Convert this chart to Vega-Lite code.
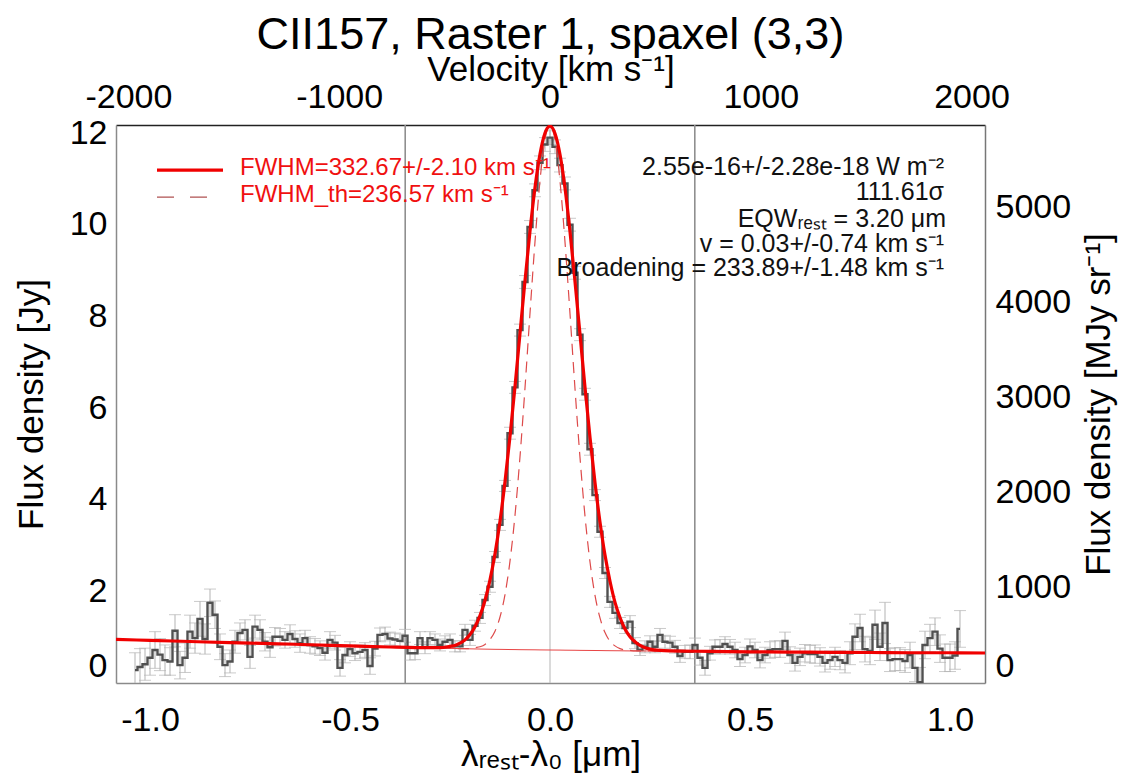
{
  "$schema": "https://vega.github.io/schema/vega-lite/v6.json",
  "width": 869,
  "height": 558,
  "autosize": "none",
  "padding": {"left": 116, "top": 125, "right": 141, "bottom": 96},
  "background": "white",
  "title": {"text": "CII157, Raster 1, spaxel (3,3)", "fontSize": 45, "font": "Liberation Sans", "fontWeight": "normal", "color": "#000", "anchor": "middle", "offset": -6},
  "config": {
    "font": "Liberation Sans",
    "view": {"stroke": null},
    "axis": {"grid": false, "labelFont": "Liberation Sans", "titleFont": "Liberation Sans", "labelColor": "#000", "titleColor": "#000", "titleFontWeight": "normal", "labelFontSize": 34, "titleFontSize": 35, "domainColor": "#8a8a8a", "domainWidth": 1.5, "tickColor": "#333", "tickWidth": 1.2, "tickSize": 0, "labelOverlap": false, "labelBound": false}
  },
  "datasets": {
    "spectrum": [
      {"w":-1.0375,"f":0.28,"e":0.38},{"w":-1.025,"f":0.35,"e":0.40},{"w":-1.0125,"f":0.41,"e":0.35},{"w":-1.0,"f":0.55,"e":0.38},
      {"w":-0.9875,"f":0.72,"e":0.40},{"w":-0.975,"f":0.62,"e":0.35},{"w":-0.9625,"f":0.50,"e":0.33},{"w":-0.95,"f":0.47,"e":0.30},
      {"w":-0.9375,"f":1.14,"e":0.35},{"w":-0.925,"f":0.39,"e":0.30},{"w":-0.9125,"f":0.55,"e":0.32},{"w":-0.9,"f":1.12,"e":0.36},
      {"w":-0.8875,"f":0.98,"e":0.33},{"w":-0.875,"f":1.40,"e":0.38},{"w":-0.8625,"f":0.96,"e":0.33},{"w":-0.85,"f":1.75,"e":0.30},
      {"w":-0.8375,"f":1.49,"e":0.30},{"w":-0.825,"f":0.79,"e":0.28},{"w":-0.8125,"f":0.39,"e":0.25},{"w":-0.8,"f":0.47,"e":0.25},
      {"w":-0.7875,"f":0.90,"e":0.25},{"w":-0.775,"f":1.09,"e":0.22},{"w":-0.7625,"f":1.16,"e":0.22},{"w":-0.75,"f":0.57,"e":0.25},
      {"w":-0.7375,"f":1.23,"e":0.25},{"w":-0.725,"f":1.16,"e":0.22},{"w":-0.7125,"f":0.90,"e":0.20},{"w":-0.7,"f":0.78,"e":0.22},
      {"w":-0.6875,"f":1.01,"e":0.20},{"w":-0.675,"f":1.01,"e":0.18},{"w":-0.6625,"f":0.94,"e":0.18},{"w":-0.65,"f":1.07,"e":0.20},
      {"w":-0.6375,"f":0.96,"e":0.18},{"w":-0.625,"f":0.87,"e":0.20},{"w":-0.6125,"f":0.98,"e":0.17},{"w":-0.6,"f":0.83,"e":0.18},
      {"w":-0.5875,"f":0.80,"e":0.17},{"w":-0.575,"f":0.76,"e":0.16},{"w":-0.5625,"f":0.66,"e":0.16},{"w":-0.55,"f":0.94,"e":0.18},
      {"w":-0.5375,"f":0.88,"e":0.16},{"w":-0.525,"f":0.33,"e":0.18},{"w":-0.5125,"f":0.61,"e":0.17},{"w":-0.5,"f":0.74,"e":0.16},
      {"w":-0.4875,"f":0.65,"e":0.16},{"w":-0.475,"f":0.68,"e":0.15},{"w":-0.4625,"f":0.72,"e":0.16},{"w":-0.45,"f":0.37,"e":0.18},
      {"w":-0.4375,"f":0.75,"e":0.16},{"w":-0.425,"f":1.05,"e":0.15},{"w":-0.4125,"f":1.07,"e":0.15},{"w":-0.4,"f":0.97,"e":0.14},
      {"w":-0.3875,"f":0.95,"e":0.14},{"w":-0.375,"f":0.92,"e":0.15},{"w":-0.3625,"f":1.03,"e":0.14},{"w":-0.35,"f":0.65,"e":0.15},
      {"w":-0.3375,"f":0.65,"e":0.14},{"w":-0.325,"f":0.98,"e":0.14},{"w":-0.3125,"f":0.77,"e":0.13},{"w":-0.3,"f":0.98,"e":0.14},
      {"w":-0.2875,"f":0.94,"e":0.13},{"w":-0.275,"f":0.83,"e":0.13},{"w":-0.2625,"f":0.90,"e":0.13},{"w":-0.25,"f":0.94,"e":0.13},
      {"w":-0.2375,"f":0.80,"e":0.12},{"w":-0.225,"f":0.80,"e":0.12},{"w":-0.2125,"f":1.16,"e":0.12},{"w":-0.2,"f":0.94,"e":0.12},
      {"w":-0.1875,"f":1.25,"e":0.12},{"w":-0.175,"f":1.42,"e":0.12},{"w":-0.1625,"f":1.81,"e":0.12},{"w":-0.15,"f":2.10,"e":0.12},
      {"w":-0.1375,"f":2.75,"e":0.12},{"w":-0.125,"f":3.45,"e":0.12},{"w":-0.1125,"f":4.30,"e":0.12},{"w":-0.1,"f":5.45,"e":0.13},
      {"w":-0.0875,"f":6.45,"e":0.13},{"w":-0.075,"f":7.70,"e":0.13},{"w":-0.0625,"f":8.75,"e":0.14},{"w":-0.05,"f":9.95,"e":0.14},
      {"w":-0.0375,"f":10.75,"e":0.14},{"w":-0.025,"f":11.35,"e":0.15},{"w":-0.0125,"f":11.75,"e":0.15},{"w":0.0,"f":11.90,"e":0.15},
      {"w":0.0125,"f":11.70,"e":0.15},{"w":0.025,"f":11.30,"e":0.15},{"w":0.0375,"f":10.90,"e":0.14},{"w":0.05,"f":10.00,"e":0.14},
      {"w":0.0625,"f":8.95,"e":0.14},{"w":0.075,"f":7.60,"e":0.13},{"w":0.0875,"f":6.30,"e":0.13},{"w":0.1,"f":5.10,"e":0.13},
      {"w":0.1125,"f":4.10,"e":0.12},{"w":0.125,"f":3.30,"e":0.12},{"w":0.1375,"f":2.40,"e":0.12},{"w":0.15,"f":1.77,"e":0.12},
      {"w":0.1625,"f":1.53,"e":0.12},{"w":0.175,"f":1.31,"e":0.12},{"w":0.1875,"f":1.20,"e":0.12},{"w":0.2,"f":1.34,"e":0.13},
      {"w":0.2125,"f":0.87,"e":0.12},{"w":0.225,"f":0.72,"e":0.12},{"w":0.2375,"f":0.79,"e":0.13},{"w":0.25,"f":0.90,"e":0.13},
      {"w":0.2625,"f":0.79,"e":0.13},{"w":0.275,"f":1.05,"e":0.14},{"w":0.2875,"f":0.90,"e":0.14},{"w":0.3,"f":0.88,"e":0.14},
      {"w":0.3125,"f":0.79,"e":0.14},{"w":0.325,"f":0.59,"e":0.14},{"w":0.3375,"f":0.68,"e":0.14},{"w":0.35,"f":0.68,"e":0.15},
      {"w":0.3625,"f":0.83,"e":0.15},{"w":0.375,"f":0.55,"e":0.16},{"w":0.3875,"f":0.33,"e":0.16},{"w":0.4,"f":0.65,"e":0.15},
      {"w":0.4125,"f":0.79,"e":0.15},{"w":0.425,"f":0.79,"e":0.16},{"w":0.4375,"f":0.85,"e":0.16},{"w":0.45,"f":0.79,"e":0.16},
      {"w":0.4625,"f":0.72,"e":0.17},{"w":0.475,"f":0.52,"e":0.16},{"w":0.4875,"f":0.61,"e":0.17},{"w":0.5,"f":0.80,"e":0.16},
      {"w":0.5125,"f":0.72,"e":0.17},{"w":0.525,"f":0.50,"e":0.17},{"w":0.5375,"f":0.61,"e":0.17},{"w":0.55,"f":0.72,"e":0.18},
      {"w":0.5625,"f":0.74,"e":0.18},{"w":0.575,"f":0.74,"e":0.18},{"w":0.5875,"f":0.92,"e":0.19},{"w":0.6,"f":0.61,"e":0.18},
      {"w":0.6125,"f":0.44,"e":0.18},{"w":0.625,"f":0.57,"e":0.19},{"w":0.6375,"f":0.65,"e":0.19},{"w":0.65,"f":0.63,"e":0.19},
      {"w":0.6625,"f":0.63,"e":0.20},{"w":0.675,"f":0.57,"e":0.20},{"w":0.6875,"f":0.44,"e":0.20},{"w":0.7,"f":0.50,"e":0.20},
      {"w":0.7125,"f":0.57,"e":0.21},{"w":0.725,"f":0.50,"e":0.21},{"w":0.7375,"f":0.44,"e":0.22},{"w":0.75,"f":0.65,"e":0.25},
      {"w":0.7625,"f":1.01,"e":0.28},{"w":0.775,"f":1.20,"e":0.30},{"w":0.7875,"f":0.74,"e":0.28},{"w":0.8,"f":0.70,"e":0.30},
      {"w":0.8125,"f":1.27,"e":0.32},{"w":0.825,"f":0.79,"e":0.30},{"w":0.8375,"f":1.31,"e":0.45},{"w":0.85,"f":0.50,"e":0.25},
      {"w":0.8625,"f":0.52,"e":0.25},{"w":0.875,"f":0.52,"e":0.25},{"w":0.8875,"f":0.48,"e":0.25},{"w":0.9,"f":0.61,"e":0.28},
      {"w":0.9125,"f":0.33,"e":0.30},{"w":0.925,"f":0.02,"e":0.32},{"w":0.9375,"f":0.83,"e":0.30},{"w":0.95,"f":0.98,"e":0.30},
      {"w":0.9625,"f":1.12,"e":0.30},{"w":0.975,"f":0.75,"e":0.30},{"w":0.9875,"f":0.55,"e":0.30},{"w":1.0,"f":0.55,"e":0.30},
      {"w":1.0125,"f":0.60,"e":0.30},{"w":1.025,"f":1.18,"e":0.40}
    ],
    "model": [
      {"w":-1.085,"tot":0.95,"th":0.95,"cont":0.95},{"w":-1.0,"tot":0.93,"th":0.93,"cont":0.93},{"w":-0.9,"tot":0.905,"th":0.905,"cont":0.905},
      {"w":-0.8,"tot":0.88,"th":0.88,"cont":0.88},{"w":-0.7,"tot":0.86,"th":0.86,"cont":0.86},{"w":-0.6,"tot":0.835,"th":0.835,"cont":0.835},
      {"w":-0.5,"tot":0.81,"th":0.81,"cont":0.81},{"w":-0.4,"tot":0.785,"th":0.785,"cont":0.785},{"w":-0.3,"tot":0.77,"th":0.765,"cont":0.765},
      {"w":-0.275,"tot":0.77,"th":0.76,"cont":0.76},{"w":-0.25,"tot":0.80,"th":0.755,"cont":0.755},{"w":-0.2375,"tot":0.82,"th":0.753,"cont":0.753},
      {"w":-0.225,"tot":0.87,"th":0.75,"cont":0.75},{"w":-0.2125,"tot":0.94,"th":0.75,"cont":0.748},{"w":-0.2,"tot":1.06,"th":0.75,"cont":0.745},
      {"w":-0.1875,"tot":1.23,"th":0.77,"cont":0.743},{"w":-0.175,"tot":1.47,"th":0.79,"cont":0.741},{"w":-0.1625,"tot":1.80,"th":0.84,"cont":0.739},
      {"w":-0.15,"tot":2.25,"th":0.95,"cont":0.737},{"w":-0.1375,"tot":2.82,"th":1.13,"cont":0.735},{"w":-0.125,"tot":3.53,"th":1.44,"cont":0.734},
      {"w":-0.1125,"tot":4.39,"th":1.93,"cont":0.732},{"w":-0.1,"tot":5.38,"th":2.66,"cont":0.73},{"w":-0.0875,"tot":6.47,"th":3.66,"cont":0.729},
      {"w":-0.075,"tot":7.63,"th":4.94,"cont":0.727},{"w":-0.0625,"tot":8.78,"th":6.44,"cont":0.726},{"w":-0.05,"tot":9.86,"th":8.07,"cont":0.725},
      {"w":-0.0375,"tot":10.81,"th":9.63,"cont":0.724},{"w":-0.025,"tot":11.54,"th":10.96,"cont":0.722},{"w":-0.0125,"tot":12.0,"th":11.86,"cont":0.721},
      {"w":0.0,"tot":12.15,"th":12.15,"cont":0.72},{"w":0.0125,"tot":11.99,"th":11.85,"cont":0.719},{"w":0.025,"tot":11.53,"th":10.95,"cont":0.718},
      {"w":0.0375,"tot":10.80,"th":9.62,"cont":0.716},{"w":0.05,"tot":9.85,"th":8.06,"cont":0.715},{"w":0.0625,"tot":8.76,"th":6.42,"cont":0.714},
      {"w":0.075,"tot":7.61,"th":4.92,"cont":0.712},{"w":0.0875,"tot":6.45,"th":3.64,"cont":0.711},{"w":0.1,"tot":5.36,"th":2.64,"cont":0.71},
      {"w":0.1125,"tot":4.37,"th":1.91,"cont":0.709},{"w":0.125,"tot":3.51,"th":1.42,"cont":0.708},{"w":0.1375,"tot":2.79,"th":1.10,"cont":0.706},
      {"w":0.15,"tot":2.22,"th":0.91,"cont":0.705},{"w":0.1625,"tot":1.76,"th":0.81,"cont":0.704},{"w":0.175,"tot":1.43,"th":0.75,"cont":0.703},
      {"w":0.1875,"tot":1.18,"th":0.72,"cont":0.701},{"w":0.2,"tot":1.01,"th":0.71,"cont":0.70},{"w":0.2125,"tot":0.90,"th":0.70,"cont":0.70},
      {"w":0.225,"tot":0.82,"th":0.70,"cont":0.699},{"w":0.2375,"tot":0.77,"th":0.699,"cont":0.699},{"w":0.25,"tot":0.74,"th":0.698,"cont":0.698},
      {"w":0.275,"tot":0.71,"th":0.696,"cont":0.696},{"w":0.3,"tot":0.70,"th":0.695,"cont":0.695},{"w":0.4,"tot":0.69,"th":0.69,"cont":0.69},
      {"w":0.5,"tot":0.68,"th":0.68,"cont":0.68},{"w":0.6,"tot":0.675,"th":0.675,"cont":0.675},{"w":0.7,"tot":0.67,"th":0.67,"cont":0.67},
      {"w":0.8,"tot":0.665,"th":0.665,"cont":0.665},{"w":0.9,"tot":0.66,"th":0.66,"cont":0.66},{"w":1.0,"tot":0.66,"th":0.66,"cont":0.66},
      {"w":1.0875,"tot":0.655,"th":0.655,"cont":0.655}
    ],
    "vlines": [{"x":-0.362,"k":"limit"},{"x":0.362,"k":"limit"},{"x":0.0,"k":"center"}],
    "legendlines": [{"x":-0.9825,"x2":-0.8175,"y":11.19,"kind":"fit"},{"x":-0.9825,"x2":-0.855,"y":10.60,"kind":"th"}],
    "legendtext": [{"x":-0.775,"y":11.08,"label":"FWHM=332.67+/-2.10 km s⁻¹"},{"x":-0.775,"y":10.50,"label":"FWHM_th=236.57 km s⁻¹"}],
    "stats": [
      {"x":0.985,"y":11.08,"label":"2.55e-16+/-2.28e-18 W m⁻²"},
      {"x":0.985,"y":10.54,"label":"111.61σ"},
      {"x":0.99,"y":9.96,"label":"EQWᵣₑₛₜ = 3.20 μm"},
      {"x":0.985,"y":9.41,"label":"v = 0.03+/-0.74 km s⁻¹"},
      {"x":0.985,"y":8.87,"label":"Broadening = 233.89+/-1.48 km s⁻¹"}
    ]
  },
  "layer": [
    {
      "layer": [
        {
          "data": {"name": "vlines"},
          "mark": {"type": "rule"},
          "encoding": {
            "x": {"field": "x", "type": "quantitative", "scale": {"domain": [-1.085, 1.0875], "nice": false, "zero": false},
              "axis": {"orient": "bottom", "title": "λᵣₑₛₜ-λ₀ [μm]", "values": [-1.0,-0.9,-0.8,-0.7,-0.6,-0.5,-0.4,-0.3,-0.2,-0.1,0,0.1,0.2,0.3,0.4,0.5,0.6,0.7,0.8,0.9,1.0],
                "labelExpr": "abs(datum.value*2 - round(datum.value*2)) < 0.000001 ? (datum.value < 0 ? '-' : '') + format(abs(datum.value), '.1f') : ''",
                "labelPadding": 20, "titlePadding": 0, "labelFlush": false,
                "encode": {"ticks": {"update": {"y2": {"signal": "abs(datum.value*2 - round(datum.value*2)) < 0.000001 ? -10 : -7"}}}}}},
            "color": {"field": "k", "type": "nominal", "scale": {"domain": ["limit", "center"], "range": ["#8f8f8f", "#c2c2c2"]}, "legend": null},
            "strokeWidth": {"field": "k", "type": "nominal", "scale": {"domain": ["limit", "center"], "range": [1.6, 1.2]}, "legend": null}
          }
        },
        {
          "data": {"name": "spectrum"},
          "mark": {"type": "errorbar", "ticks": {"size": 12, "thickness": 1}, "color": "#b3b3b3", "thickness": 1, "clip": true},
          "encoding": {
            "x": {"field": "w", "type": "quantitative"},
            "y": {"field": "f", "type": "quantitative", "scale": {"domain": [0, 12.175], "nice": false, "zero": false},
              "axis": {"orient": "left", "title": "Flux density [Jy]", "values": [0,0.5,1,1.5,2,2.5,3,3.5,4,4.5,5,5.5,6,6.5,7,7.5,8,8.5,9,9.5,10,10.5,11,11.5,12],
                "labelExpr": "datum.value % 2 === 0 ? format(datum.value, 'd') : ''",
                "labelPadding": 9, "titlePadding": 20, "labelFlush": true,
                "encode": {"ticks": {"update": {"x2": {"signal": "datum.value % 2 === 0 ? 18 : 10"}}}}}},
            "yError": {"field": "e"}
          }
        },
        {
          "data": {"name": "spectrum"},
          "mark": {"type": "line", "interpolate": "step", "color": "#505050", "strokeWidth": 2.4, "clip": true},
          "encoding": {"x": {"field": "w", "type": "quantitative"}, "y": {"field": "f", "type": "quantitative"}}
        },
        {
          "data": {"name": "model"},
          "mark": {"type": "line", "interpolate": "monotone", "color": "#e84545", "strokeWidth": 1, "clip": true},
          "encoding": {"x": {"field": "w", "type": "quantitative"}, "y": {"field": "cont", "type": "quantitative"}}
        },
        {
          "data": {"name": "model"},
          "mark": {"type": "line", "interpolate": "monotone", "color": "#dd4a4a", "strokeWidth": 1.2, "strokeDash": [11, 7], "clip": true},
          "encoding": {"x": {"field": "w", "type": "quantitative"}, "y": {"field": "th", "type": "quantitative"}}
        },
        {
          "data": {"name": "model"},
          "mark": {"type": "line", "interpolate": "monotone", "color": "#f00000", "strokeWidth": 3.2, "clip": true},
          "encoding": {"x": {"field": "w", "type": "quantitative"}, "y": {"field": "tot", "type": "quantitative"}}
        },
        {
          "data": {"name": "legendlines"},
          "transform": [{"filter": "datum.kind === 'fit'"}],
          "mark": {"type": "rule", "color": "#f00000", "strokeWidth": 3.2},
          "encoding": {"x": {"field": "x", "type": "quantitative"}, "x2": {"field": "x2"}, "y": {"field": "y", "type": "quantitative"}}
        },
        {
          "data": {"name": "legendlines"},
          "transform": [{"filter": "datum.kind === 'th'"}],
          "mark": {"type": "rule", "color": "#b05252", "strokeWidth": 1.3, "strokeDash": [17, 16]},
          "encoding": {"x": {"field": "x", "type": "quantitative"}, "x2": {"field": "x2"}, "y": {"field": "y", "type": "quantitative"}}
        },
        {
          "data": {"name": "legendtext"},
          "mark": {"type": "text", "align": "left", "baseline": "alphabetic", "fontSize": 24, "color": "#f01010", "font": "Liberation Sans"},
          "encoding": {"x": {"field": "x", "type": "quantitative"}, "y": {"field": "y", "type": "quantitative"}, "text": {"field": "label"}}
        },
        {
          "data": {"name": "stats"},
          "mark": {"type": "text", "align": "right", "baseline": "alphabetic", "fontSize": 25, "color": "#111", "font": "Liberation Sans"},
          "encoding": {"x": {"field": "x", "type": "quantitative"}, "y": {"field": "y", "type": "quantitative"}, "text": {"field": "label"}}
        }
      ]
    },
    {
      "data": {"values": [{"v": 0}]},
      "mark": {"type": "point", "opacity": 0},
      "encoding": {
        "x": {"field": "v", "type": "quantitative", "scale": {"domain": [-2059, 2064], "nice": false, "zero": false},
          "axis": {"orient": "top", "title": "Velocity [km s⁻¹]", "domainColor": "#222",
            "values": [-2000,-1900,-1800,-1700,-1600,-1500,-1400,-1300,-1200,-1100,-1000,-900,-800,-700,-600,-500,-400,-300,-200,-100,0,100,200,300,400,500,600,700,800,900,1000,1100,1200,1300,1400,1500,1600,1700,1800,1900,2000],
            "labelExpr": "datum.value % 1000 === 0 ? (datum.value < 0 ? '-' : '') + format(abs(datum.value), 'd') : ''",
            "labelPadding": 11, "titlePadding": -7, "labelFlush": false,
            "encode": {"ticks": {"update": {"y2": {"signal": "datum.value % 1000 === 0 ? 10 : 6"}}}}}}
      }
    },
    {
      "data": {"values": [{"m": 0}]},
      "mark": {"type": "point", "opacity": 0},
      "encoding": {
        "y": {"field": "m", "type": "quantitative", "scale": {"domain": [0, 5867], "nice": false, "zero": false},
          "axis": {"orient": "right", "title": "Flux density [MJy sr⁻¹]", "titleAngle": 270, "domainColor": "#777",
            "values": [0,100,200,300,400,500,600,700,800,900,1000,1100,1200,1300,1400,1500,1600,1700,1800,1900,2000,2100,2200,2300,2400,2500,2600,2700,2800,2900,3000,3100,3200,3300,3400,3500,3600,3700,3800,3900,4000,4100,4200,4300,4400,4500,4600,4700,4800,4900,5000,5100,5200,5300,5400,5500,5600,5700,5800],
            "labelExpr": "datum.value % 1000 === 0 ? format(datum.value, 'd') : ''",
            "labelPadding": 10, "titlePadding": 46, "labelFlush": true,
            "encode": {"ticks": {"update": {"x2": {"signal": "datum.value % 1000 === 0 ? -18 : -10"}}}}}}
      }
    }
  ],
  "resolve": {"scale": {"x": "independent", "y": "independent"}}
}
